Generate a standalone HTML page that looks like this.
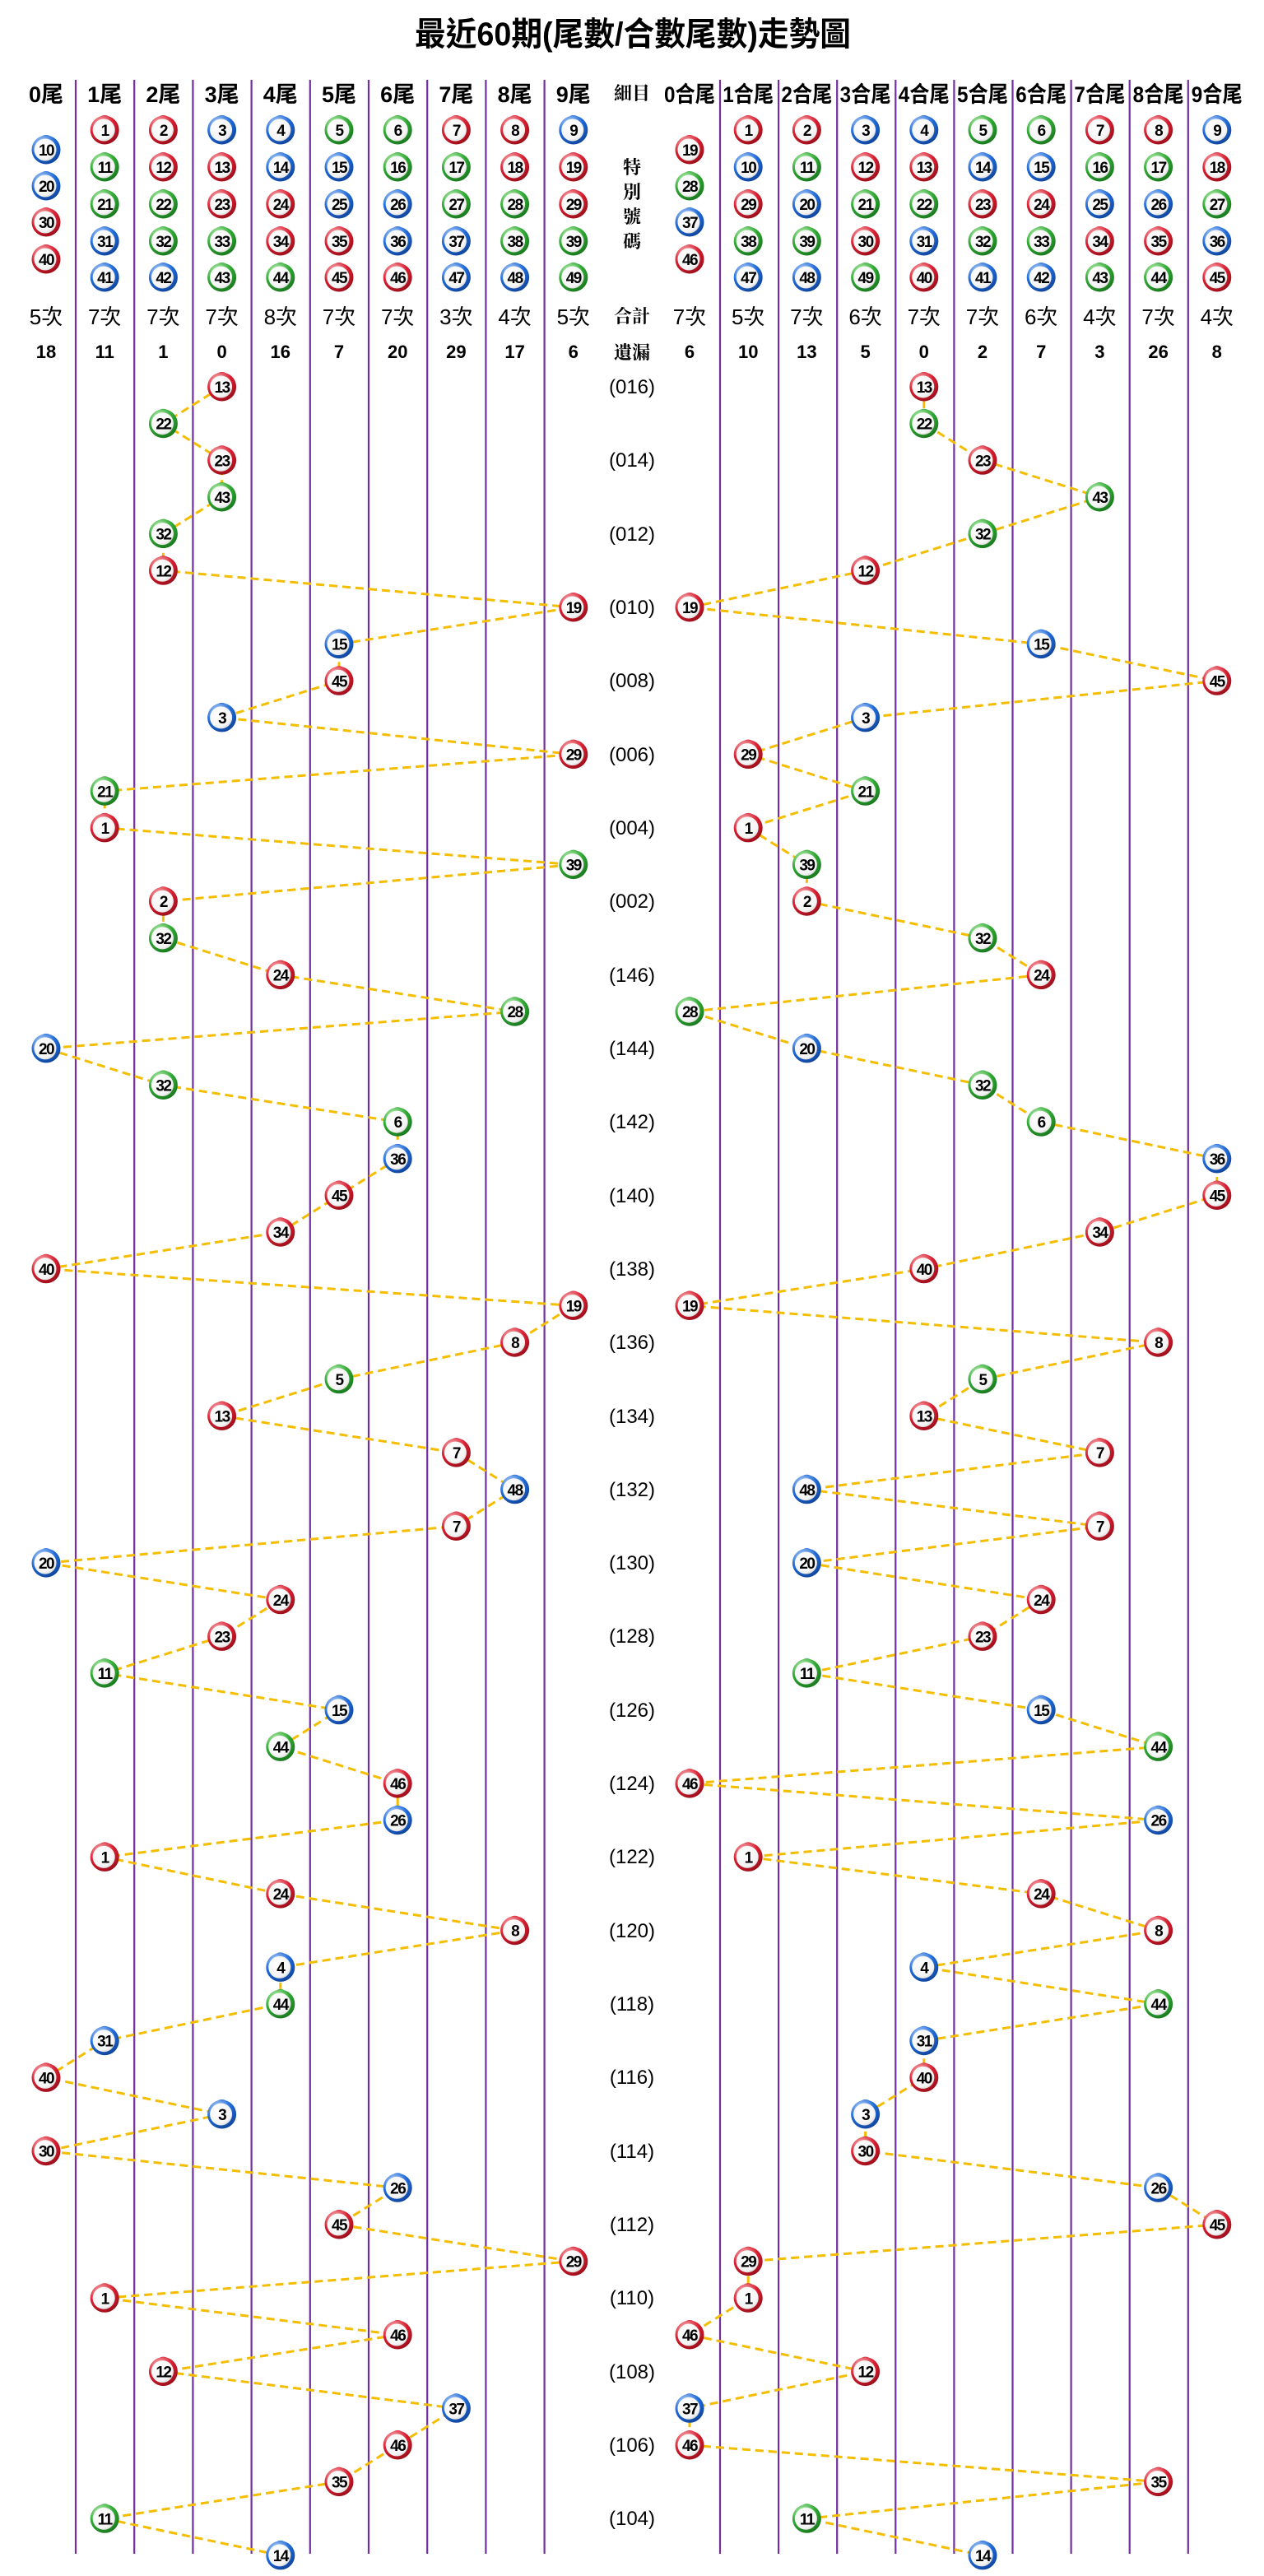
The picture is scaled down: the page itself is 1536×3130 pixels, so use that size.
<!DOCTYPE html>
<html><head><meta charset="utf-8"><style>
body{margin:0;background:#fff;}
svg{display:block;}
.t{font-family:"Liberation Sans","Noto Sans CJK TC",sans-serif;fill:#000;}
.h{font-size:27px;font-weight:bold;text-anchor:middle;}
.c{font-size:26px;text-anchor:middle;}
.m{font-size:22px;font-weight:bold;text-anchor:middle;}
.s{font-size:22px;font-weight:bold;text-anchor:middle;font-family:"Noto Serif CJK SC","Liberation Serif",serif;}
.p{font-size:24px;text-anchor:middle;}
.b text{font-family:"Liberation Sans",sans-serif;font-weight:bold;font-size:19px;text-anchor:middle;letter-spacing:-1.5px;fill:#000;}
</style></head><body>
<svg width="1536" height="3130" viewBox="0 0 1536 3130" xmlns="http://www.w3.org/2000/svg">
<defs>
<radialGradient id="gr" cx=".38" cy=".3" r=".8"><stop offset="0" stop-color="#ffd0d0"/><stop offset=".55" stop-color="#d81e30"/><stop offset="1" stop-color="#8a0a14"/></radialGradient>
<radialGradient id="gb" cx=".38" cy=".3" r=".8"><stop offset="0" stop-color="#d0e4ff"/><stop offset=".55" stop-color="#1f6ad8"/><stop offset="1" stop-color="#0c3a8a"/></radialGradient>
<radialGradient id="gg" cx=".38" cy=".3" r=".8"><stop offset="0" stop-color="#d8ffd0"/><stop offset=".55" stop-color="#2ea832"/><stop offset="1" stop-color="#136a18"/></radialGradient>
<radialGradient id="gw" cx=".4" cy=".35" r=".7"><stop offset="0" stop-color="#fff"/><stop offset=".8" stop-color="#f4f4f4"/><stop offset="1" stop-color="#d8d8d8"/></radialGradient>
<g id="R"><ellipse cx="0" cy="-13" rx="7" ry="5" fill="#d81e30"/><circle r="17.5" fill="url(#gr)"/><circle cx="-1" cy="0" r="13.5" fill="url(#gw)"/></g>
<g id="B"><ellipse cx="0" cy="-13" rx="7" ry="5" fill="#1f6ad8"/><circle r="17.5" fill="url(#gb)"/><circle cx="-1" cy="0" r="13.5" fill="url(#gw)"/></g>
<g id="G"><ellipse cx="0" cy="-13" rx="7" ry="5" fill="#2ea832"/><circle r="17.5" fill="url(#gg)"/><circle cx="-1" cy="0" r="13.5" fill="url(#gw)"/></g>
</defs>

<text class="t" x="504" y="55" font-size="40" textLength="530" lengthAdjust="spacingAndGlyphs" font-weight="bold">最近60期(尾數/合數尾數)走勢圖</text>

<g stroke="#7030a0" stroke-width="2.2">
<line x1="92" y1="97" x2="92" y2="3103"/><line x1="163.2" y1="97" x2="163.2" y2="3103"/><line x1="234.4" y1="97" x2="234.4" y2="3103"/><line x1="305.6" y1="97" x2="305.6" y2="3103"/><line x1="376.8" y1="97" x2="376.8" y2="3103"/><line x1="448" y1="97" x2="448" y2="3103"/><line x1="519.2" y1="97" x2="519.2" y2="3103"/><line x1="590.4" y1="97" x2="590.4" y2="3103"/><line x1="661.6" y1="97" x2="661.6" y2="3103"/>
<line x1="875" y1="97" x2="875" y2="3103"/><line x1="946.1" y1="97" x2="946.1" y2="3103"/><line x1="1017.2" y1="97" x2="1017.2" y2="3103"/><line x1="1088.3" y1="97" x2="1088.3" y2="3103"/><line x1="1159.4" y1="97" x2="1159.4" y2="3103"/><line x1="1230.5" y1="97" x2="1230.5" y2="3103"/><line x1="1301.6" y1="97" x2="1301.6" y2="3103"/><line x1="1372.7" y1="97" x2="1372.7" y2="3103"/><line x1="1443.8" y1="97" x2="1443.8" y2="3103"/>
</g>

<g class="t h">
<text x="56" y="124">0尾</text><text x="127.2" y="124">1尾</text><text x="198.4" y="124">2尾</text><text x="269.6" y="124">3尾</text><text x="340.8" y="124">4尾</text><text x="412" y="124">5尾</text><text x="483.2" y="124">6尾</text><text x="554.4" y="124">7尾</text><text x="625.6" y="124">8尾</text><text x="696.8" y="124">9尾</text>
<text x="838" y="124" textLength="62" lengthAdjust="spacingAndGlyphs">0合尾</text><text x="909.2" y="124" textLength="62" lengthAdjust="spacingAndGlyphs">1合尾</text><text x="980.4" y="124" textLength="62" lengthAdjust="spacingAndGlyphs">2合尾</text><text x="1051.6" y="124" textLength="62" lengthAdjust="spacingAndGlyphs">3合尾</text><text x="1122.8" y="124" textLength="62" lengthAdjust="spacingAndGlyphs">4合尾</text><text x="1194" y="124" textLength="62" lengthAdjust="spacingAndGlyphs">5合尾</text><text x="1265.2" y="124" textLength="62" lengthAdjust="spacingAndGlyphs">6合尾</text><text x="1336.4" y="124" textLength="62" lengthAdjust="spacingAndGlyphs">7合尾</text><text x="1407.6" y="124" textLength="62" lengthAdjust="spacingAndGlyphs">8合尾</text><text x="1478.8" y="124" textLength="62" lengthAdjust="spacingAndGlyphs">9合尾</text>
</g>
<g class="t s">
<text x="768" y="121">細目</text>
<text x="768" y="211">特</text><text x="768" y="241">別</text><text x="768" y="271">號</text><text x="768" y="301">碼</text>
<text x="768" y="392">合計</text><text x="768" y="436">遺漏</text>
</g>
<g class="t c">
<text x="56" y="394">5次</text><text x="127.2" y="394">7次</text><text x="198.4" y="394">7次</text><text x="269.6" y="394">7次</text><text x="340.8" y="394">8次</text><text x="412" y="394">7次</text><text x="483.2" y="394">7次</text><text x="554.4" y="394">3次</text><text x="625.6" y="394">4次</text><text x="696.8" y="394">5次</text>
<text x="838" y="394">7次</text><text x="909.2" y="394">5次</text><text x="980.4" y="394">7次</text><text x="1051.6" y="394">6次</text><text x="1122.8" y="394">7次</text><text x="1194" y="394">7次</text><text x="1265.2" y="394">6次</text><text x="1336.4" y="394">4次</text><text x="1407.6" y="394">7次</text><text x="1478.8" y="394">4次</text>
</g>
<g class="t m">
<text x="56" y="435">18</text><text x="127.2" y="435">11</text><text x="198.4" y="435">1</text><text x="269.6" y="435">0</text><text x="340.8" y="435">16</text><text x="412" y="435">7</text><text x="483.2" y="435">20</text><text x="554.4" y="435">29</text><text x="625.6" y="435">17</text><text x="696.8" y="435">6</text>
<text x="838" y="435">6</text><text x="909.2" y="435">10</text><text x="980.4" y="435">13</text><text x="1051.6" y="435">5</text><text x="1122.8" y="435">0</text><text x="1194" y="435">2</text><text x="1265.2" y="435">7</text><text x="1336.4" y="435">3</text><text x="1407.6" y="435">26</text><text x="1478.8" y="435">8</text>
</g>

<g class="b">
<g transform="translate(56,182)"><use href="#B"/><text y="7">10</text></g>
<g transform="translate(56,226)"><use href="#B"/><text y="7">20</text></g>
<g transform="translate(56,270)"><use href="#R"/><text y="7">30</text></g>
<g transform="translate(56,315)"><use href="#R"/><text y="7">40</text></g>

<g transform="translate(127.2,158)"><use href="#R"/><text y="7">1</text></g>
<g transform="translate(127.2,203)"><use href="#G"/><text y="7">11</text></g>
<g transform="translate(127.2,248)"><use href="#G"/><text y="7">21</text></g>
<g transform="translate(127.2,293)"><use href="#B"/><text y="7">31</text></g>
<g transform="translate(127.2,337)"><use href="#B"/><text y="7">41</text></g>

<g transform="translate(198.4,158)"><use href="#R"/><text y="7">2</text></g>
<g transform="translate(198.4,203)"><use href="#R"/><text y="7">12</text></g>
<g transform="translate(198.4,248)"><use href="#G"/><text y="7">22</text></g>
<g transform="translate(198.4,293)"><use href="#G"/><text y="7">32</text></g>
<g transform="translate(198.4,337)"><use href="#B"/><text y="7">42</text></g>

<g transform="translate(269.6,158)"><use href="#B"/><text y="7">3</text></g>
<g transform="translate(269.6,203)"><use href="#R"/><text y="7">13</text></g>
<g transform="translate(269.6,248)"><use href="#R"/><text y="7">23</text></g>
<g transform="translate(269.6,293)"><use href="#G"/><text y="7">33</text></g>
<g transform="translate(269.6,337)"><use href="#G"/><text y="7">43</text></g>

<g transform="translate(340.8,158)"><use href="#B"/><text y="7">4</text></g>
<g transform="translate(340.8,203)"><use href="#B"/><text y="7">14</text></g>
<g transform="translate(340.8,248)"><use href="#R"/><text y="7">24</text></g>
<g transform="translate(340.8,293)"><use href="#R"/><text y="7">34</text></g>
<g transform="translate(340.8,337)"><use href="#G"/><text y="7">44</text></g>

<g transform="translate(412,158)"><use href="#G"/><text y="7">5</text></g>
<g transform="translate(412,203)"><use href="#B"/><text y="7">15</text></g>
<g transform="translate(412,248)"><use href="#B"/><text y="7">25</text></g>
<g transform="translate(412,293)"><use href="#R"/><text y="7">35</text></g>
<g transform="translate(412,337)"><use href="#R"/><text y="7">45</text></g>

<g transform="translate(483.2,158)"><use href="#G"/><text y="7">6</text></g>
<g transform="translate(483.2,203)"><use href="#G"/><text y="7">16</text></g>
<g transform="translate(483.2,248)"><use href="#B"/><text y="7">26</text></g>
<g transform="translate(483.2,293)"><use href="#B"/><text y="7">36</text></g>
<g transform="translate(483.2,337)"><use href="#R"/><text y="7">46</text></g>

<g transform="translate(554.4,158)"><use href="#R"/><text y="7">7</text></g>
<g transform="translate(554.4,203)"><use href="#G"/><text y="7">17</text></g>
<g transform="translate(554.4,248)"><use href="#G"/><text y="7">27</text></g>
<g transform="translate(554.4,293)"><use href="#B"/><text y="7">37</text></g>
<g transform="translate(554.4,337)"><use href="#B"/><text y="7">47</text></g>

<g transform="translate(625.6,158)"><use href="#R"/><text y="7">8</text></g>
<g transform="translate(625.6,203)"><use href="#R"/><text y="7">18</text></g>
<g transform="translate(625.6,248)"><use href="#G"/><text y="7">28</text></g>
<g transform="translate(625.6,293)"><use href="#G"/><text y="7">38</text></g>
<g transform="translate(625.6,337)"><use href="#B"/><text y="7">48</text></g>

<g transform="translate(696.8,158)"><use href="#B"/><text y="7">9</text></g>
<g transform="translate(696.8,203)"><use href="#R"/><text y="7">19</text></g>
<g transform="translate(696.8,248)"><use href="#R"/><text y="7">29</text></g>
<g transform="translate(696.8,293)"><use href="#G"/><text y="7">39</text></g>
<g transform="translate(696.8,337)"><use href="#G"/><text y="7">49</text></g>

<g transform="translate(838,182)"><use href="#R"/><text y="7">19</text></g>
<g transform="translate(838,226)"><use href="#G"/><text y="7">28</text></g>
<g transform="translate(838,270)"><use href="#B"/><text y="7">37</text></g>
<g transform="translate(838,315)"><use href="#R"/><text y="7">46</text></g>

<g transform="translate(909.2,158)"><use href="#R"/><text y="7">1</text></g>
<g transform="translate(909.2,203)"><use href="#B"/><text y="7">10</text></g>
<g transform="translate(909.2,248)"><use href="#R"/><text y="7">29</text></g>
<g transform="translate(909.2,293)"><use href="#G"/><text y="7">38</text></g>
<g transform="translate(909.2,337)"><use href="#B"/><text y="7">47</text></g>

<g transform="translate(980.4,158)"><use href="#R"/><text y="7">2</text></g>
<g transform="translate(980.4,203)"><use href="#G"/><text y="7">11</text></g>
<g transform="translate(980.4,248)"><use href="#B"/><text y="7">20</text></g>
<g transform="translate(980.4,293)"><use href="#G"/><text y="7">39</text></g>
<g transform="translate(980.4,337)"><use href="#B"/><text y="7">48</text></g>

<g transform="translate(1051.6,158)"><use href="#B"/><text y="7">3</text></g>
<g transform="translate(1051.6,203)"><use href="#R"/><text y="7">12</text></g>
<g transform="translate(1051.6,248)"><use href="#G"/><text y="7">21</text></g>
<g transform="translate(1051.6,293)"><use href="#R"/><text y="7">30</text></g>
<g transform="translate(1051.6,337)"><use href="#G"/><text y="7">49</text></g>

<g transform="translate(1122.8,158)"><use href="#B"/><text y="7">4</text></g>
<g transform="translate(1122.8,203)"><use href="#R"/><text y="7">13</text></g>
<g transform="translate(1122.8,248)"><use href="#G"/><text y="7">22</text></g>
<g transform="translate(1122.8,293)"><use href="#B"/><text y="7">31</text></g>
<g transform="translate(1122.8,337)"><use href="#R"/><text y="7">40</text></g>

<g transform="translate(1194,158)"><use href="#G"/><text y="7">5</text></g>
<g transform="translate(1194,203)"><use href="#B"/><text y="7">14</text></g>
<g transform="translate(1194,248)"><use href="#R"/><text y="7">23</text></g>
<g transform="translate(1194,293)"><use href="#G"/><text y="7">32</text></g>
<g transform="translate(1194,337)"><use href="#B"/><text y="7">41</text></g>

<g transform="translate(1265.2,158)"><use href="#G"/><text y="7">6</text></g>
<g transform="translate(1265.2,203)"><use href="#B"/><text y="7">15</text></g>
<g transform="translate(1265.2,248)"><use href="#R"/><text y="7">24</text></g>
<g transform="translate(1265.2,293)"><use href="#G"/><text y="7">33</text></g>
<g transform="translate(1265.2,337)"><use href="#B"/><text y="7">42</text></g>

<g transform="translate(1336.4,158)"><use href="#R"/><text y="7">7</text></g>
<g transform="translate(1336.4,203)"><use href="#G"/><text y="7">16</text></g>
<g transform="translate(1336.4,248)"><use href="#B"/><text y="7">25</text></g>
<g transform="translate(1336.4,293)"><use href="#R"/><text y="7">34</text></g>
<g transform="translate(1336.4,337)"><use href="#G"/><text y="7">43</text></g>

<g transform="translate(1407.6,158)"><use href="#R"/><text y="7">8</text></g>
<g transform="translate(1407.6,203)"><use href="#G"/><text y="7">17</text></g>
<g transform="translate(1407.6,248)"><use href="#B"/><text y="7">26</text></g>
<g transform="translate(1407.6,293)"><use href="#R"/><text y="7">35</text></g>
<g transform="translate(1407.6,337)"><use href="#G"/><text y="7">44</text></g>

<g transform="translate(1478.8,158)"><use href="#B"/><text y="7">9</text></g>
<g transform="translate(1478.8,203)"><use href="#R"/><text y="7">18</text></g>
<g transform="translate(1478.8,248)"><use href="#G"/><text y="7">27</text></g>
<g transform="translate(1478.8,293)"><use href="#B"/><text y="7">36</text></g>
<g transform="translate(1478.8,337)"><use href="#R"/><text y="7">45</text></g>
</g>

<g class="t p">
<text x="768" y="478">(016)</text><text x="768" y="567">(014)</text><text x="768" y="657">(012)</text><text x="768" y="746">(010)</text><text x="768" y="835">(008)</text><text x="768" y="925">(006)</text><text x="768" y="1014">(004)</text><text x="768" y="1103">(002)</text><text x="768" y="1193">(146)</text><text x="768" y="1282">(144)</text><text x="768" y="1371">(142)</text><text x="768" y="1461">(140)</text><text x="768" y="1550">(138)</text><text x="768" y="1639">(136)</text><text x="768" y="1729">(134)</text><text x="768" y="1818">(132)</text><text x="768" y="1907">(130)</text><text x="768" y="1996">(128)</text><text x="768" y="2086">(126)</text><text x="768" y="2175">(124)</text><text x="768" y="2264">(122)</text><text x="768" y="2354">(120)</text><text x="768" y="2443">(118)</text><text x="768" y="2532">(116)</text><text x="768" y="2622">(114)</text><text x="768" y="2711">(112)</text><text x="768" y="2800">(110)</text><text x="768" y="2890">(108)</text><text x="768" y="2979">(106)</text><text x="768" y="3068">(104)</text>
</g>

<g fill="none" stroke="#f5bd00" stroke-width="3" stroke-dasharray="10 6">
<polyline points="269.6,470 198.4,514.7 269.6,559.3 269.6,604 198.4,648.6 198.4,693.3 696.8,738 412,782.6 412,827.3 269.6,871.9 696.8,916.6 127.2,961.3 127.2,1005.9 696.8,1050.6 198.4,1095.2 198.4,1139.9 340.8,1184.6 625.6,1229.2 56,1273.9 198.4,1318.5 483.2,1363.2 483.2,1407.9 412,1452.5 340.8,1497.2 56,1541.8 696.8,1586.5 625.6,1631.2 412,1675.8 269.6,1720.5 554.4,1765.1 625.6,1809.8 554.4,1854.5 56,1899.1 340.8,1943.8 269.6,1988.4 127.2,2033.1 412,2077.8 340.8,2122.4 483.2,2167.1 483.2,2211.7 127.2,2256.4 340.8,2301.1 625.6,2345.7 340.8,2390.4 340.8,2435 127.2,2479.7 56,2524.4 269.6,2569 56,2613.7 483.2,2658.3 412,2703 696.8,2747.7 127.2,2792.3 483.2,2837 198.4,2881.6 554.4,2926.3 483.2,2971 412,3015.6 127.2,3060.3 340.8,3104.9"/>
<polyline points="1122.8,470 1122.8,514.7 1194,559.3 1336.4,604 1194,648.6 1051.6,693.3 838,738 1265.2,782.6 1478.8,827.3 1051.6,871.9 909.2,916.6 1051.6,961.3 909.2,1005.9 980.4,1050.6 980.4,1095.2 1194,1139.9 1265.2,1184.6 838,1229.2 980.4,1273.9 1194,1318.5 1265.2,1363.2 1478.8,1407.9 1478.8,1452.5 1336.4,1497.2 1122.8,1541.8 838,1586.5 1407.6,1631.2 1194,1675.8 1122.8,1720.5 1336.4,1765.1 980.4,1809.8 1336.4,1854.5 980.4,1899.1 1265.2,1943.8 1194,1988.4 980.4,2033.1 1265.2,2077.8 1407.6,2122.4 838,2167.1 1407.6,2211.7 909.2,2256.4 1265.2,2301.1 1407.6,2345.7 1122.8,2390.4 1407.6,2435 1122.8,2479.7 1122.8,2524.4 1051.6,2569 1051.6,2613.7 1407.6,2658.3 1478.8,2703 909.2,2747.7 909.2,2792.3 838,2837 1051.6,2881.6 838,2926.3 838,2971 1407.6,3015.6 980.4,3060.3 1194,3104.9"/>
</g>

<g class="b">
<g transform="translate(269.6,470)"><use href="#R"/><text y="7">13</text></g><g transform="translate(1122.8,470)"><use href="#R"/><text y="7">13</text></g>
<g transform="translate(198.4,514.7)"><use href="#G"/><text y="7">22</text></g><g transform="translate(1122.8,514.7)"><use href="#G"/><text y="7">22</text></g>
<g transform="translate(269.6,559.3)"><use href="#R"/><text y="7">23</text></g><g transform="translate(1194,559.3)"><use href="#R"/><text y="7">23</text></g>
<g transform="translate(269.6,604)"><use href="#G"/><text y="7">43</text></g><g transform="translate(1336.4,604)"><use href="#G"/><text y="7">43</text></g>
<g transform="translate(198.4,648.6)"><use href="#G"/><text y="7">32</text></g><g transform="translate(1194,648.6)"><use href="#G"/><text y="7">32</text></g>
<g transform="translate(198.4,693.3)"><use href="#R"/><text y="7">12</text></g><g transform="translate(1051.6,693.3)"><use href="#R"/><text y="7">12</text></g>
<g transform="translate(696.8,738)"><use href="#R"/><text y="7">19</text></g><g transform="translate(838,738)"><use href="#R"/><text y="7">19</text></g>
<g transform="translate(412,782.6)"><use href="#B"/><text y="7">15</text></g><g transform="translate(1265.2,782.6)"><use href="#B"/><text y="7">15</text></g>
<g transform="translate(412,827.3)"><use href="#R"/><text y="7">45</text></g><g transform="translate(1478.8,827.3)"><use href="#R"/><text y="7">45</text></g>
<g transform="translate(269.6,871.9)"><use href="#B"/><text y="7">3</text></g><g transform="translate(1051.6,871.9)"><use href="#B"/><text y="7">3</text></g>
<g transform="translate(696.8,916.6)"><use href="#R"/><text y="7">29</text></g><g transform="translate(909.2,916.6)"><use href="#R"/><text y="7">29</text></g>
<g transform="translate(127.2,961.3)"><use href="#G"/><text y="7">21</text></g><g transform="translate(1051.6,961.3)"><use href="#G"/><text y="7">21</text></g>
<g transform="translate(127.2,1005.9)"><use href="#R"/><text y="7">1</text></g><g transform="translate(909.2,1005.9)"><use href="#R"/><text y="7">1</text></g>
<g transform="translate(696.8,1050.6)"><use href="#G"/><text y="7">39</text></g><g transform="translate(980.4,1050.6)"><use href="#G"/><text y="7">39</text></g>
<g transform="translate(198.4,1095.2)"><use href="#R"/><text y="7">2</text></g><g transform="translate(980.4,1095.2)"><use href="#R"/><text y="7">2</text></g>
<g transform="translate(198.4,1139.9)"><use href="#G"/><text y="7">32</text></g><g transform="translate(1194,1139.9)"><use href="#G"/><text y="7">32</text></g>
<g transform="translate(340.8,1184.6)"><use href="#R"/><text y="7">24</text></g><g transform="translate(1265.2,1184.6)"><use href="#R"/><text y="7">24</text></g>
<g transform="translate(625.6,1229.2)"><use href="#G"/><text y="7">28</text></g><g transform="translate(838,1229.2)"><use href="#G"/><text y="7">28</text></g>
<g transform="translate(56,1273.9)"><use href="#B"/><text y="7">20</text></g><g transform="translate(980.4,1273.9)"><use href="#B"/><text y="7">20</text></g>
<g transform="translate(198.4,1318.5)"><use href="#G"/><text y="7">32</text></g><g transform="translate(1194,1318.5)"><use href="#G"/><text y="7">32</text></g>
<g transform="translate(483.2,1363.2)"><use href="#G"/><text y="7">6</text></g><g transform="translate(1265.2,1363.2)"><use href="#G"/><text y="7">6</text></g>
<g transform="translate(483.2,1407.9)"><use href="#B"/><text y="7">36</text></g><g transform="translate(1478.8,1407.9)"><use href="#B"/><text y="7">36</text></g>
<g transform="translate(412,1452.5)"><use href="#R"/><text y="7">45</text></g><g transform="translate(1478.8,1452.5)"><use href="#R"/><text y="7">45</text></g>
<g transform="translate(340.8,1497.2)"><use href="#R"/><text y="7">34</text></g><g transform="translate(1336.4,1497.2)"><use href="#R"/><text y="7">34</text></g>
<g transform="translate(56,1541.8)"><use href="#R"/><text y="7">40</text></g><g transform="translate(1122.8,1541.8)"><use href="#R"/><text y="7">40</text></g>
<g transform="translate(696.8,1586.5)"><use href="#R"/><text y="7">19</text></g><g transform="translate(838,1586.5)"><use href="#R"/><text y="7">19</text></g>
<g transform="translate(625.6,1631.2)"><use href="#R"/><text y="7">8</text></g><g transform="translate(1407.6,1631.2)"><use href="#R"/><text y="7">8</text></g>
<g transform="translate(412,1675.8)"><use href="#G"/><text y="7">5</text></g><g transform="translate(1194,1675.8)"><use href="#G"/><text y="7">5</text></g>
<g transform="translate(269.6,1720.5)"><use href="#R"/><text y="7">13</text></g><g transform="translate(1122.8,1720.5)"><use href="#R"/><text y="7">13</text></g>
<g transform="translate(554.4,1765.1)"><use href="#R"/><text y="7">7</text></g><g transform="translate(1336.4,1765.1)"><use href="#R"/><text y="7">7</text></g>
<g transform="translate(625.6,1809.8)"><use href="#B"/><text y="7">48</text></g><g transform="translate(980.4,1809.8)"><use href="#B"/><text y="7">48</text></g>
<g transform="translate(554.4,1854.5)"><use href="#R"/><text y="7">7</text></g><g transform="translate(1336.4,1854.5)"><use href="#R"/><text y="7">7</text></g>
<g transform="translate(56,1899.1)"><use href="#B"/><text y="7">20</text></g><g transform="translate(980.4,1899.1)"><use href="#B"/><text y="7">20</text></g>
<g transform="translate(340.8,1943.8)"><use href="#R"/><text y="7">24</text></g><g transform="translate(1265.2,1943.8)"><use href="#R"/><text y="7">24</text></g>
<g transform="translate(269.6,1988.4)"><use href="#R"/><text y="7">23</text></g><g transform="translate(1194,1988.4)"><use href="#R"/><text y="7">23</text></g>
<g transform="translate(127.2,2033.1)"><use href="#G"/><text y="7">11</text></g><g transform="translate(980.4,2033.1)"><use href="#G"/><text y="7">11</text></g>
<g transform="translate(412,2077.8)"><use href="#B"/><text y="7">15</text></g><g transform="translate(1265.2,2077.8)"><use href="#B"/><text y="7">15</text></g>
<g transform="translate(340.8,2122.4)"><use href="#G"/><text y="7">44</text></g><g transform="translate(1407.6,2122.4)"><use href="#G"/><text y="7">44</text></g>
<g transform="translate(483.2,2167.1)"><use href="#R"/><text y="7">46</text></g><g transform="translate(838,2167.1)"><use href="#R"/><text y="7">46</text></g>
<g transform="translate(483.2,2211.7)"><use href="#B"/><text y="7">26</text></g><g transform="translate(1407.6,2211.7)"><use href="#B"/><text y="7">26</text></g>
<g transform="translate(127.2,2256.4)"><use href="#R"/><text y="7">1</text></g><g transform="translate(909.2,2256.4)"><use href="#R"/><text y="7">1</text></g>
<g transform="translate(340.8,2301.1)"><use href="#R"/><text y="7">24</text></g><g transform="translate(1265.2,2301.1)"><use href="#R"/><text y="7">24</text></g>
<g transform="translate(625.6,2345.7)"><use href="#R"/><text y="7">8</text></g><g transform="translate(1407.6,2345.7)"><use href="#R"/><text y="7">8</text></g>
<g transform="translate(340.8,2390.4)"><use href="#B"/><text y="7">4</text></g><g transform="translate(1122.8,2390.4)"><use href="#B"/><text y="7">4</text></g>
<g transform="translate(340.8,2435)"><use href="#G"/><text y="7">44</text></g><g transform="translate(1407.6,2435)"><use href="#G"/><text y="7">44</text></g>
<g transform="translate(127.2,2479.7)"><use href="#B"/><text y="7">31</text></g><g transform="translate(1122.8,2479.7)"><use href="#B"/><text y="7">31</text></g>
<g transform="translate(56,2524.4)"><use href="#R"/><text y="7">40</text></g><g transform="translate(1122.8,2524.4)"><use href="#R"/><text y="7">40</text></g>
<g transform="translate(269.6,2569)"><use href="#B"/><text y="7">3</text></g><g transform="translate(1051.6,2569)"><use href="#B"/><text y="7">3</text></g>
<g transform="translate(56,2613.7)"><use href="#R"/><text y="7">30</text></g><g transform="translate(1051.6,2613.7)"><use href="#R"/><text y="7">30</text></g>
<g transform="translate(483.2,2658.3)"><use href="#B"/><text y="7">26</text></g><g transform="translate(1407.6,2658.3)"><use href="#B"/><text y="7">26</text></g>
<g transform="translate(412,2703)"><use href="#R"/><text y="7">45</text></g><g transform="translate(1478.8,2703)"><use href="#R"/><text y="7">45</text></g>
<g transform="translate(696.8,2747.7)"><use href="#R"/><text y="7">29</text></g><g transform="translate(909.2,2747.7)"><use href="#R"/><text y="7">29</text></g>
<g transform="translate(127.2,2792.3)"><use href="#R"/><text y="7">1</text></g><g transform="translate(909.2,2792.3)"><use href="#R"/><text y="7">1</text></g>
<g transform="translate(483.2,2837)"><use href="#R"/><text y="7">46</text></g><g transform="translate(838,2837)"><use href="#R"/><text y="7">46</text></g>
<g transform="translate(198.4,2881.6)"><use href="#R"/><text y="7">12</text></g><g transform="translate(1051.6,2881.6)"><use href="#R"/><text y="7">12</text></g>
<g transform="translate(554.4,2926.3)"><use href="#B"/><text y="7">37</text></g><g transform="translate(838,2926.3)"><use href="#B"/><text y="7">37</text></g>
<g transform="translate(483.2,2971)"><use href="#R"/><text y="7">46</text></g><g transform="translate(838,2971)"><use href="#R"/><text y="7">46</text></g>
<g transform="translate(412,3015.6)"><use href="#R"/><text y="7">35</text></g><g transform="translate(1407.6,3015.6)"><use href="#R"/><text y="7">35</text></g>
<g transform="translate(127.2,3060.3)"><use href="#G"/><text y="7">11</text></g><g transform="translate(980.4,3060.3)"><use href="#G"/><text y="7">11</text></g>
<g transform="translate(340.8,3104.9)"><use href="#B"/><text y="7">14</text></g><g transform="translate(1194,3104.9)"><use href="#B"/><text y="7">14</text></g>
</g>
</svg>
</body></html>
